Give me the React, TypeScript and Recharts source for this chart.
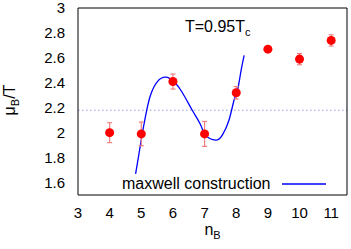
import React from 'react';
import {
  ComposedChart,
  Line,
  Scatter,
  ErrorBar,
  XAxis,
  YAxis,
  ReferenceLine,
  Legend,
} from 'recharts';

const nB = [4, 5, 6, 7, 8, 9, 10, 11];
const muOverT = [2.0, 1.99, 2.41, 1.99, 2.32, 2.67, 2.59, 2.74];
const muErr = [0.08, 0.095, 0.06, 0.1, 0.05, 0.02, 0.045, 0.045];

const curveN = [4.82, 4.92, 5.01, 5.14, 5.29, 5.51, 5.77, 6.03, 6.3, 6.61, 6.88, 7.03, 7.35, 7.56, 7.77, 7.93, 8.04, 8.14, 8.25];
const curveMu = [1.67, 1.82, 1.96, 2.14, 2.3, 2.41, 2.445, 2.41, 2.32, 2.18, 2.06, 1.98, 1.94, 1.98, 2.1, 2.26, 2.34, 2.48, 2.62];

const maxwellLevel = 2.18;

const xTicks = [3, 4, 5, 6, 7, 8, 9, 10, 11];
const xMinorTicks = [3.5, 4.5, 5.5, 6.5, 7.5, 8.5, 9.5, 10.5, 11.5];
const yTicks = [1.6, 1.8, 2, 2.2, 2.4, 2.6, 2.8, 3];
const yMinorTicks = [1.7, 1.9, 2.1, 2.3, 2.5, 2.7, 2.9];

const points = nB.map((x, i) => ({ x, y: muOverT[i], err: muErr[i] }));
const curve = curveN.map((x, i) => ({ x, y: curveMu[i] }));
const xAllTicks = [...xTicks, ...xMinorTicks].sort((a, b) => a - b);
const yAllTicks = [...yTicks, ...yMinorTicks].sort((a, b) => a - b);

const font = '"Liberation Sans", Arial, sans-serif';
const xDomain: [number, number] = [3, 11.5];
const yDomain: [number, number] = [1.5, 3];

// inward gnuplot-style tick marks, long for major, short for minor
const innerTick = (side: 'top' | 'bottom' | 'left' | 'right', major: number[]) => (props: any) => {
  const { x, y, payload } = props;
  const len = major.includes(payload.value) ? 5 : 3;
  let x2 = x;
  let y2 = y;
  if (side === 'bottom') y2 = y - len;
  if (side === 'top') y2 = y + len;
  if (side === 'left') x2 = x + len;
  if (side === 'right') x2 = x - len;
  return <line x1={x} y1={y} x2={x2} y2={y2} stroke="#000" strokeWidth={1} />;
};

const XLabel = (props: any) => {
  const { x, y, width } = props.viewBox;
  return (
    <text x={x + width / 2} y={y + 40} textAnchor="middle" fontFamily={font} fontSize={16} fill="#000">
      n<tspan dy={4} fontSize={11}>B</tspan>
    </text>
  );
};

const YLabel = () => {
  const cx = 15;
  const cy = 100;
  return (
    <text x={cx} y={cy} transform={`rotate(-90, ${cx}, ${cy})`} textAnchor="middle" fontFamily={font} fontSize={16} fill="#000">
      μ<tspan dy={4} fontSize={11}>B</tspan><tspan dy={-4}>/T</tspan>
    </text>
  );
};

const Title = (props: any) => {
  const { x, y } = props.viewBox;
  return (
    <text x={x + 107} y={y + 24} fontFamily={font} fontSize={16} fill="#000">
      T=0.95T<tspan dy={4} fontSize={11}>c</tspan>
    </text>
  );
};

const LegendBox = () => (
  <div style={{ display: 'flex', alignItems: 'center', fontFamily: font, fontSize: 16, lineHeight: '16px', color: '#000' }}>
    <span>maxwell construction</span>
    <svg width={44} height={4} style={{ marginLeft: 11 }}>
      <line x1={0} y1={2} x2={44} y2={2} stroke="#0000ff" strokeWidth={1.3} />
    </svg>
  </div>
);

export default function App() {
  return (
    <>
      <style>{'body{margin:0}'}</style>
      <ComposedChart width={351} height={249} margin={{ top: 8, right: 4, left: 0, bottom: 0 }}>
        <XAxis
          dataKey="x"
          type="number"
          domain={xDomain}
          ticks={xTicks}
          interval={0}
          height={54}
          tickLine={false}
          tickSize={0}
          tickMargin={12}
          axisLine={{ stroke: '#000' }}
          tick={{ fontFamily: font, fontSize: 15, fill: '#000' }}
          label={{ content: XLabel }}
        />
        <XAxis xAxisId="bIn" type="number" domain={xDomain} ticks={xAllTicks} interval={0} mirror height={1} tickSize={0} tickMargin={0} tickLine={false} axisLine={false} tick={innerTick('bottom', xTicks)} />
        <XAxis xAxisId="tIn" orientation="top" type="number" domain={xDomain} ticks={xAllTicks} interval={0} mirror height={1} tickSize={0} tickMargin={0} tickLine={false} axisLine={{ stroke: '#000' }} tick={innerTick('top', xTicks)} label={{ content: Title }} />
        <YAxis
          type="number"
          domain={yDomain}
          ticks={yTicks}
          interval={0}
          width={78}
          tickLine={false}
          tickSize={0}
          tickMargin={13}
          axisLine={{ stroke: '#000' }}
          tick={{ fontFamily: font, fontSize: 15, fill: '#000' }}
          label={{ content: YLabel }}
        />
        <YAxis yAxisId="lIn" type="number" domain={yDomain} ticks={yAllTicks} interval={0} mirror width={1} tickSize={0} tickMargin={0} tickLine={false} axisLine={false} tick={innerTick('left', yTicks)} />
        <YAxis yAxisId="rIn" orientation="right" type="number" domain={yDomain} ticks={yAllTicks} interval={0} mirror width={1} tickSize={0} tickMargin={0} tickLine={false} axisLine={{ stroke: '#000' }} tick={innerTick('right', yTicks)} />
        <ReferenceLine y={maxwellLevel} stroke="#9a9ae0" strokeDasharray="1.5 2.5" />
        <Line data={curve} dataKey="y" type="natural" stroke="#0000ff" strokeWidth={1.3} dot={false} activeDot={false} isAnimationActive={false} legendType="none" />
        <Scatter data={points} dataKey="y" fill="#ff0000" isAnimationActive={false} legendType="none">
          <ErrorBar dataKey="err" direction="y" width={2.5} stroke="#f08080" strokeWidth={1.2} isAnimationActive={false} />
        </Scatter>
        <Legend
          layout="horizontal"
          verticalAlign="middle"
          align="center"
          content={LegendBox}
          wrapperStyle={{ position: 'absolute', left: 122, top: 176, width: 'auto' }}
        />
      </ComposedChart>
    </>
  );
}
